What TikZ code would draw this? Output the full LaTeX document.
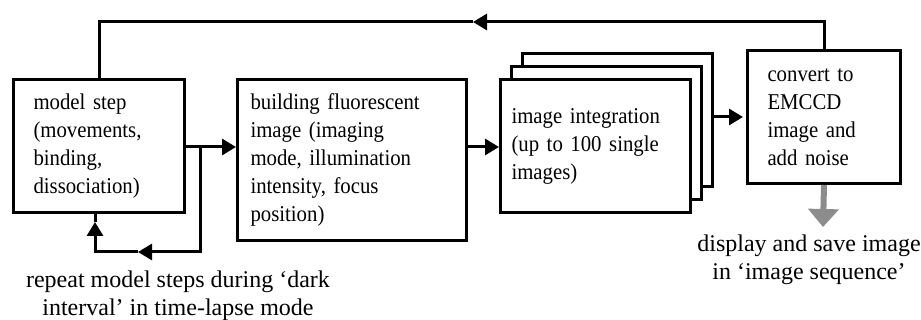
\documentclass[tikz,border=0pt]{standalone}
\usepackage{fontspec}
\setmainfont{Liberation Serif}
\newfontfamily\boxfont{Liberation Serif}[FakeStretch=0.92]
\usetikzlibrary{arrows.meta}

\begin{document}
\begin{tikzpicture}[
  x=0.5pt,y=-0.5pt,
  font=\fontsize{12}{14}\selectfont,
  box/.style={draw=black, line width=1.5pt, fill=white, inner ysep=0pt, align=left, anchor=north west,
    font=\boxfont\fontsize{11.3}{14}\selectfont},
  line/.style={draw=black, line width=1.5pt},
  flow/.style={line, -{Triangle[length=7pt,width=8pt]}},
  outflow/.style={draw=black!45, line width=3pt, -{Triangle[length=9pt,width=15pt]}},
  note/.style={align=center, inner sep=0pt}]
\useasboundingbox (0,0) rectangle (921,320);
\node[box, text width=65.5pt, inner xsep=10pt, minimum height=66.5pt] (model) at (12,78)
 {model step\\(movements,\\binding,\\dissociation)};
\node[box, text width=101.5pt, inner xsep=6.5pt, minimum height=80.5pt] (build) at (236,78)
 {building fluorescent\\image (imaging\\mode, illumination\\intensity, focus\\position)};
% stack of single images behind the integration box
\foreach \k in {2,1}
  \node[box, minimum width=95pt, minimum height=66.5pt] (layer\k) at ([xshift=\k*5.5pt,yshift=\k*6.5pt]499,78) {};
\node[box, text width=84pt, inner xsep=5.5pt, minimum height=66.5pt] (integ) at (499,78)
 {image integration\\(up to 100 single\\images)};
\node[box, text width=56.5pt, inner xsep=10pt, minimum height=66.5pt] (emccd) at (746,49)
 {convert to\\EMCCD\\image and\\add noise};
\coordinate (split) at (200,147);
\coordinate (looptip) at (138,252);
\coordinate (uptip) at (95,222);
\coordinate (backtip) at (473,22);
\coordinate (disptip) at (823,227);
% main chain
\draw[line] (model.east |- split) -- (split);
\draw[flow] (split) -- (split -| build.west);
\draw[flow] (build.east |- split) -- (split -| integ.west);
\draw[flow] (emccd.west -| layer2.east) -- ([xshift=-1.5pt]emccd.west);
% dark interval loop
\draw[flow] (split) |- (looptip);
\draw[flow] (looptip) -| (uptip);
\draw[line] (uptip) -- (uptip |- model.south);
% next frame
\draw[flow] (emccd.north) |- (backtip);
\draw[line] (backtip) -| (model.north);
\draw[outflow] (emccd.south) -- (disptip);
\node[note] (repeat) at (178,296) {repeat model steps during ‘dark\\interval’ in time-lapse mode};
\node[note] (display) at (809,260) {display and save image\\in ‘image sequence’};
\end{tikzpicture}
\end{document}
